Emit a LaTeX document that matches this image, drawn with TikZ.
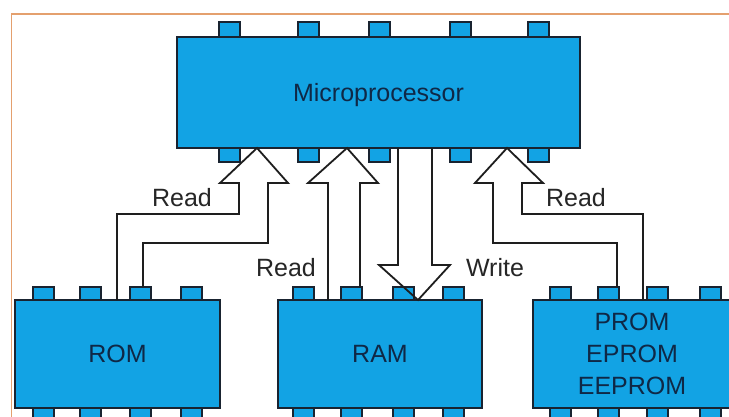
\documentclass[tikz,border=0pt]{standalone}
\usepackage{fontspec}
\setmainfont{Liberation Sans}
\definecolor{chipblue}{RGB}{18,163,228}
\definecolor{chipline}{RGB}{25,35,48}
\definecolor{chiptext}{RGB}{15,40,70}
\definecolor{wire}{RGB}{30,30,30}
\definecolor{framecol}{RGB}{228,160,110}
\begin{document}
\begin{tikzpicture}[x=1pt,y=-1pt,
  chip/.style={draw=chipline, fill=chipblue, line width=1.8pt, text=chiptext,
    font=\fontsize{25}{32}\selectfont, align=center, inner sep=0pt, text depth=0pt},
  pin/.style={draw=chipline, fill=chipblue, line width=1.3pt},
  bus/.style={draw=wire, line width=1.8pt, line join=miter},
  lbl/.style={text=black!85, font=\fontsize{25}{30}\selectfont, inner sep=0pt, text depth=0pt}]
\useasboundingbox (0,0) rectangle (729,417);
\clip (0,0) rectangle (729,417);
\fill[white] (0,0) rectangle (729,417);
\draw[framecol, line width=1.4pt] (11.5,417) -- (11.5,14) -- (729,14);
% pins
\foreach \x in {219,298,369,450,528} {
  \draw[pin] (\x,22) rectangle ++(21,16);
  \draw[pin] (\x,147) rectangle ++(21,15);
}
\foreach \x in {33,80,130,181,293,341,393,443,550,598,647,700} {
  \draw[pin] (\x,287) rectangle ++(21,14);
  \draw[pin] (\x,407) rectangle ++(21,15);
}
% chips
\node[chip, minimum width=403, minimum height=111] (mp) at (378.5,92.5) {Microprocessor};
\node[chip, minimum width=205, minimum height=108] (rom) at (117.5,354) {ROM};
\node[chip, minimum width=204, minimum height=108] (ram) at (380,354) {RAM};
\node[chip, minimum width=198, minimum height=108] (prom) at (632,354) {PROM\\EPROM\\EEPROM};
% buses
\draw[bus] (117,300) -- (117,214) -- (239,214) -- (239,183) -- (220,183) -- (257,148)
  -- (288,183) -- (268,183) -- (268,243) -- (143,243) -- (143,287);
\draw[bus] (328,300) -- (328,183) -- (308,183) -- (347,148) -- (378,183) -- (360,183) -- (360,287);
\draw[bus] (398,148) -- (398,265) -- (379,265) -- (418,300) -- (450,265) -- (432,265) -- (432,148);
\draw[bus] (617,287) -- (617,243) -- (493,243) -- (493,183) -- (475,183) -- (507,148)
  -- (543,183) -- (522,183) -- (522,214) -- (643,214) -- (643,300);
% labels
\node[lbl] (r1) at (182,197) {Read};
\node[lbl] (r2) at (286,267) {Read};
\node[lbl] (w) at (495,267) {Write};
\node[lbl] (r3) at (576,197) {Read};
\end{tikzpicture}
\end{document}
